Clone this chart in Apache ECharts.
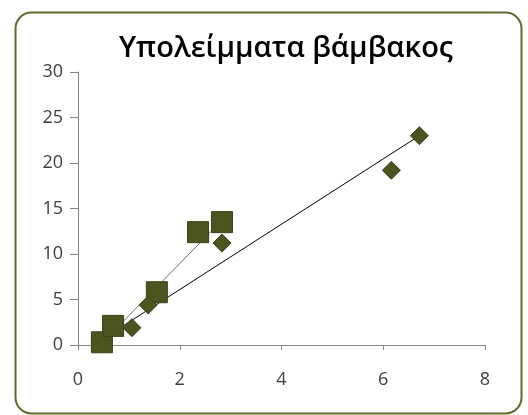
<!DOCTYPE html>
<html>
<head>
<meta charset="utf-8">
<script src="https://cdn.jsdelivr.net/npm/echarts@6/dist/echarts.min.js"></script>
<style>
html,body{margin:0;padding:0;background:#fff;}
#c{width:528px;height:415px;}
</style>
</head>
<body>
<div id="c"></div>
<script>
var title = "Υπολείμματα βάμβακος";
var diamondX = [1.06, 1.38, 2.83, 6.16, 6.71];
var diamondY = [1.9, 4.4, 11.2, 19.2, 23.0];
var squareX = [0.47, 0.69, 1.55, 2.36, 2.83];
var squareY = [0.3, 2.1, 5.8, 12.4, 13.5];
var trendDiamondX = [0.72, 6.71];
var trendDiamondY = [1.5, 23.0];
var trendSquareX = [0.47, 2.83];
var trendSquareY = [0.2, 13.7];

function pairs(xs, ys){ return xs.map(function(x,i){ return [x, ys[i]]; }); }

var chart = echarts.init(document.getElementById('c'), null, {renderer:'canvas'});
var mk = {color:'#4a5520', borderColor:'#39421a', borderWidth:1, opacity:1};
chart.setOption({
  animation:false,
  backgroundColor:'#ffffff',
  title:{text:title,left:281,top:29,textAlign:'center',
    textStyle:{fontFamily:'Open Sans',fontSize:29,fontWeight:600,color:'#000'}},
  graphic:[{type:'rect',left:13,top:10,shape:{width:506,height:401,r:16},
    style:{fill:'none',stroke:'#5d6d2b',lineWidth:2},z:-1}],
  grid:{left:78,right:43,top:72,bottom:70},
  xAxis:{type:'value',min:0,max:8,interval:2,
    axisLine:{lineStyle:{color:'#868686'}},
    axisTick:{show:true,length:5,lineStyle:{color:'#868686'}},
    splitLine:{show:false},
    axisLabel:{fontFamily:'Open Sans',fontSize:18,color:'#404040',margin:26}},
  yAxis:{type:'value',min:0,max:30,interval:5,
    axisLine:{show:true,lineStyle:{color:'#868686'}},
    axisTick:{show:true,length:8,lineStyle:{color:'#868686'}},
    splitLine:{show:false},
    axisLabel:{fontFamily:'Open Sans',fontSize:18,color:'#404040',margin:15}},
  series:[
    {type:'line',data:pairs(trendDiamondX,trendDiamondY),symbol:'none',
      lineStyle:{color:'#000',width:1},z:1},
    {type:'line',data:pairs(trendSquareX,trendSquareY),symbol:'none',
      lineStyle:{color:'#707070',width:1},z:1},
    {type:'scatter',data:pairs(squareX,squareY),symbol:'rect',symbolSize:21,
      itemStyle:mk,z:2},
    {type:'scatter',data:pairs(diamondX,diamondY),symbol:'diamond',symbolSize:[18,18],
      itemStyle:mk,z:3}
  ]
});
</script>
</body>
</html>
